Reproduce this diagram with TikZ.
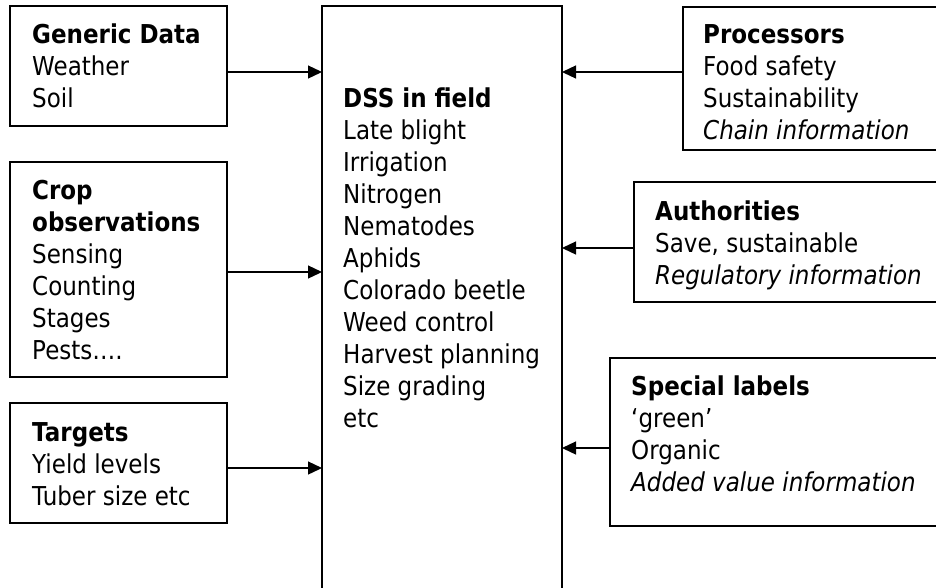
\documentclass[tikz,border=0pt]{standalone}
\usepackage{fontspec}
\setmainfont{DejaVu Sans}[FakeStretch=0.885]
\usetikzlibrary{arrows.meta}
\newcommand\mylines[1]{\begin{tabular}[t]{@{}l@{}}#1\end{tabular}}
\begin{document}
\begin{tikzpicture}[x=1pt,y=-1pt,
  boxst/.style={draw=black,line width=1.6pt},
  txt/.style={anchor=base west,inner sep=0pt,font=\fontsize{26}{32}\selectfont},
  arr/.style={line width=1.3pt,-{Triangle[length=14pt,width=13pt]}}]
\useasboundingbox (0,0) rectangle (936,587);
% boxes
\path[boxst] (10,6) rectangle (227,126);
\coordinate (genE) at (227,72);
\path[boxst] (10,162) rectangle (227,377);
\coordinate (cropE) at (227,272);
\path[boxst] (10,403) rectangle (227,523);
\coordinate (targE) at (227,468);
\path[boxst] (322,6) rectangle (562,592);
\coordinate (dssW1) at (322,72);
\coordinate (dssW2) at (322,272);
\coordinate (dssW3) at (322,468);
\coordinate (dssE1) at (562,72);
\coordinate (dssE2) at (562,248);
\coordinate (dssE3) at (562,448);
\path[boxst] (683,7) rectangle (945,150);
\coordinate (procW) at (683,72);
\path[boxst] (634,182) rectangle (945,302);
\coordinate (authW) at (634,248);
\path[boxst] (610,358) rectangle (945,526);
\coordinate (specW) at (610,448);
% texts
\node[txt] (t1) at (32,43) {\mylines{\textbf{Generic Data}\\Weather\\Soil}};
\node[txt] (t2) at (32,199) {\mylines{\textbf{Crop}\\\textbf{observations}\\Sensing\\Counting\\Stages\\Pests….}};
\node[txt] (t3) at (32,441) {\mylines{\textbf{Targets}\\Yield levels\\Tuber size etc}};
\node[txt] (t4) at (343,107) {\mylines{\textbf{DSS in field}\\Late blight\\Irrigation\\Nitrogen\\Nematodes\\Aphids\\Colorado beetle\\Weed control\\Harvest planning\\Size grading\\etc}};
\node[txt] (t5) at (703,43) {\mylines{\textbf{Processors}\\Food safety\\Sustainability\\\textit{Chain information}}};
\node[txt] (t6) at (655,220) {\mylines{\textbf{Authorities}\\Save, sustainable\\\textit{Regulatory information}}};
\node[txt] (t7) at (631,395) {\mylines{\textbf{Special labels}\\‘green’\\Organic\\\textit{Added value information}}};
% arrows
\draw[arr] (genE) -- (dssW1);
\draw[arr] (cropE) -- (dssW2);
\draw[arr] (targE) -- (dssW3);
\draw[arr] (procW) -- (dssE1);
\draw[arr] (authW) -- (dssE2);
\draw[arr] (specW) -- (dssE3);
\end{tikzpicture}
\end{document}
